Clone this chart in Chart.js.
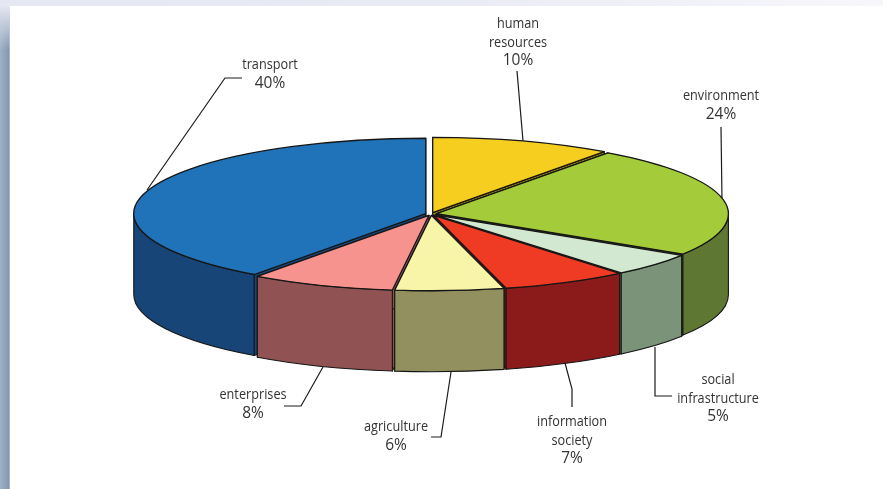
<!DOCTYPE html>
<html lang="en">
<head>
  <meta charset="utf-8">
  <title>Funding by sector</title>
  <script src="https://cdn.jsdelivr.net/npm/chart.js@4"></script>
  <style>
    html, body { margin: 0; height: 100%; overflow: hidden; background: #fff; }
    #top { position: absolute; left: 0; top: 0; width: 883px; height: 6px;
      background: linear-gradient(to right, #e5e7f2 0, #e8eaf4 400px, #f7f7fb 883px); }
    #strip { position: absolute; left: 0; top: 6px; width: 10px; height: 483px;
      background: linear-gradient(to right, #9fb1c8 0, #8da0b8 6px, #8397af 9px, #c9d2e0 10px); }
    #fade { position: absolute; left: 0; top: 6px; width: 10px; height: 44px;
      background: linear-gradient(to bottom, #e5e7f2 0, #cdd3e2 12px, rgba(205, 211, 226, 0) 100%); }
    #panel { position: absolute; left: 10px; top: 6px; width: 873px; height: 483px; background: #fff; }
    #chart { position: absolute; left: 0; top: 0; }
  </style>
</head>
<body>
  <div id="top"></div>
  <div id="strip"></div>
  <div id="fade"></div>
  <div id="panel"></div>
  <canvas id="chart" width="883" height="489"></canvas>
  <script>
    var categories = ['human resources', 'environment', 'social infrastructure', 'information society', 'agriculture', 'enterprises', 'transport'];
    var shares = [10, 24, 5, 7, 6, 8, 40];
    var topColors = ['#f6ce1f', '#a4cb3a', '#d3e8d0', '#ef3a24', '#f8f4a8', '#f7938e', '#2173b9'];
    var wallColors = ['#a08a15', '#5e7833', '#7a9379', '#8b1a1a', '#93905f', '#905252', '#174577'];

    // label text broken into lines, with the x centre, line centres and leader path in page pixels
    var labelLines = [['human', 'resources'], ['environment'], ['social', 'infrastructure'], ['information', 'society'], ['agriculture'], ['enterprises'], ['transport']];
    var labelX = [518, 721, 718, 572, 396, 253, 270];
    var labelY = [24, 96, 380, 422, 427, 395, 65];
    var leaders = [
      [[517, 71], [523, 141]],
      [[721, 127], [722, 200]],
      [[672, 396], [655, 396], [655, 347]],
      [[572, 407], [572, 389], [565, 363]],
      [[431, 437], [441, 437], [451, 372]],
      [[284, 406], [301, 406], [323, 367]],
      [[242, 78], [225, 78], [147, 190]]
    ];

    var squash = 0.258;  // ellipse height / width
    var depth = 81;      // height of the side wall
    var explode = 5.5;   // how far each slice moves out
    var lineHeight = 18.5;
    var narrow = 0.875;  // no condensed face installed, so the text is squeezed

    function sliceShift(arc) {
      var mid = (arc.startAngle + arc.endAngle) / 2;
      return {x: arc.x + Math.cos(mid) * explode, y: arc.y + Math.sin(mid) * explode * squash};
    }

    function drawSide(ctx, p, r, angle) {
      var ex = p.x + Math.cos(angle) * r;
      var ey = p.y + Math.sin(angle) * r * squash;
      ctx.beginPath();
      ctx.moveTo(p.x, p.y);
      ctx.lineTo(ex, ey);
      ctx.lineTo(ex, ey + depth);
      ctx.lineTo(p.x, p.y + depth);
      ctx.closePath();
      ctx.fill();
      ctx.stroke();
    }

    function drawWall(ctx, p, r, from, to) {
      ctx.beginPath();
      ctx.ellipse(p.x, p.y, r, r * squash, 0, from, to);
      ctx.ellipse(p.x, p.y + depth, r, r * squash, 0, to, from, true);
      ctx.closePath();
      ctx.fill();
      ctx.stroke();
    }

    var pie3d = {
      id: 'pie3d',
      beforeDatasetDraw: function(chart) {
        var ctx = chart.ctx;
        var arcs = chart.getDatasetMeta(0).data;
        var order = arcs.map(function(a, i) { return i; }).sort(function(a, b) {
          return Math.sin((arcs[a].startAngle + arcs[a].endAngle) / 2) - Math.sin((arcs[b].startAngle + arcs[b].endAngle) / 2);
        });

        // leader lines go under the pie
        ctx.save();
        ctx.strokeStyle = '#1c1c1c';
        ctx.lineWidth = 1.2;
        leaders.forEach(function(path) {
          ctx.beginPath();
          path.forEach(function(pt, i) { i ? ctx.lineTo(pt[0], pt[1]) : ctx.moveTo(pt[0], pt[1]); });
          ctx.stroke();
        });
        ctx.restore();

        // sides, back to front
        ctx.save();
        ctx.strokeStyle = '#161616';
        ctx.lineWidth = 1.1;
        ctx.lineJoin = 'round';
        order.forEach(function(i) {
          var arc = arcs[i];
          var p = sliceShift(arc);
          ctx.fillStyle = wallColors[i];
          drawSide(ctx, p, arc.outerRadius, arc.startAngle);
          drawSide(ctx, p, arc.outerRadius, arc.endAngle);
          var s = arc.startAngle, e = arc.endAngle;
          // only the part of the rim facing the viewer (0..PI, also PI*2..PI*3)
          [0, Math.PI * 2].forEach(function(base) {
            var from = Math.max(s, base), to = Math.min(e, base + Math.PI);
            if (to > from) drawWall(ctx, p, arc.outerRadius, from, to);
          });
        });
        ctx.restore();

        // top faces through the library's own arc elements, flattened
        order.forEach(function(i) {
          var arc = arcs[i];
          var p = sliceShift(arc);
          ctx.save();
          ctx.translate(p.x, p.y);
          ctx.scale(1, squash);
          ctx.translate(-arc.x, -arc.y);
          arc.draw(ctx);
          ctx.restore();
          // outline in screen space so the pen is not flattened
          ctx.save();
          ctx.beginPath();
          ctx.translate(p.x, p.y);
          ctx.scale(1, squash);
          ctx.moveTo(0, 0);
          ctx.arc(0, 0, arc.outerRadius, arc.startAngle, arc.endAngle);
          ctx.closePath();
          ctx.restore();
          ctx.strokeStyle = '#161616';
          ctx.lineWidth = 1.3;
          ctx.lineJoin = 'round';
          ctx.stroke();
        });
        return false;
      },
      afterDraw: function(chart) {
        var ctx = chart.ctx;
        ctx.save();
        ctx.fillStyle = '#333';
        ctx.textAlign = 'center';
        ctx.textBaseline = 'middle';
        categories.forEach(function(name, i) {
          ctx.font = '14.5px "Open Sans", sans-serif';
          labelLines[i].forEach(function(line, n) {
            ctx.fillText(line, labelX[i], labelY[i] + n * lineHeight, ctx.measureText(line).width * narrow);
          });
          // the percentages are set a little larger than the names
          ctx.font = '15.5px "Open Sans", sans-serif';
          ctx.fillText(shares[i] + '%', labelX[i], labelY[i] + labelLines[i].length * lineHeight);
        });
        ctx.restore();
      }
    };

    var chart = new Chart(document.getElementById('chart'), {
      type: 'pie',
      data: {
        labels: categories,
        datasets: [{
          data: shares,
          backgroundColor: topColors,
          borderWidth: 0,
          radius: 292,
          clip: false
        }]
      },
      options: {
        responsive: false,
        animation: false,
        layout: {padding: {right: 21, bottom: 61}},
        plugins: {legend: {display: false}, tooltip: {enabled: false}}
      },
      plugins: [pie3d]
    });
  </script>
</body>
</html>
